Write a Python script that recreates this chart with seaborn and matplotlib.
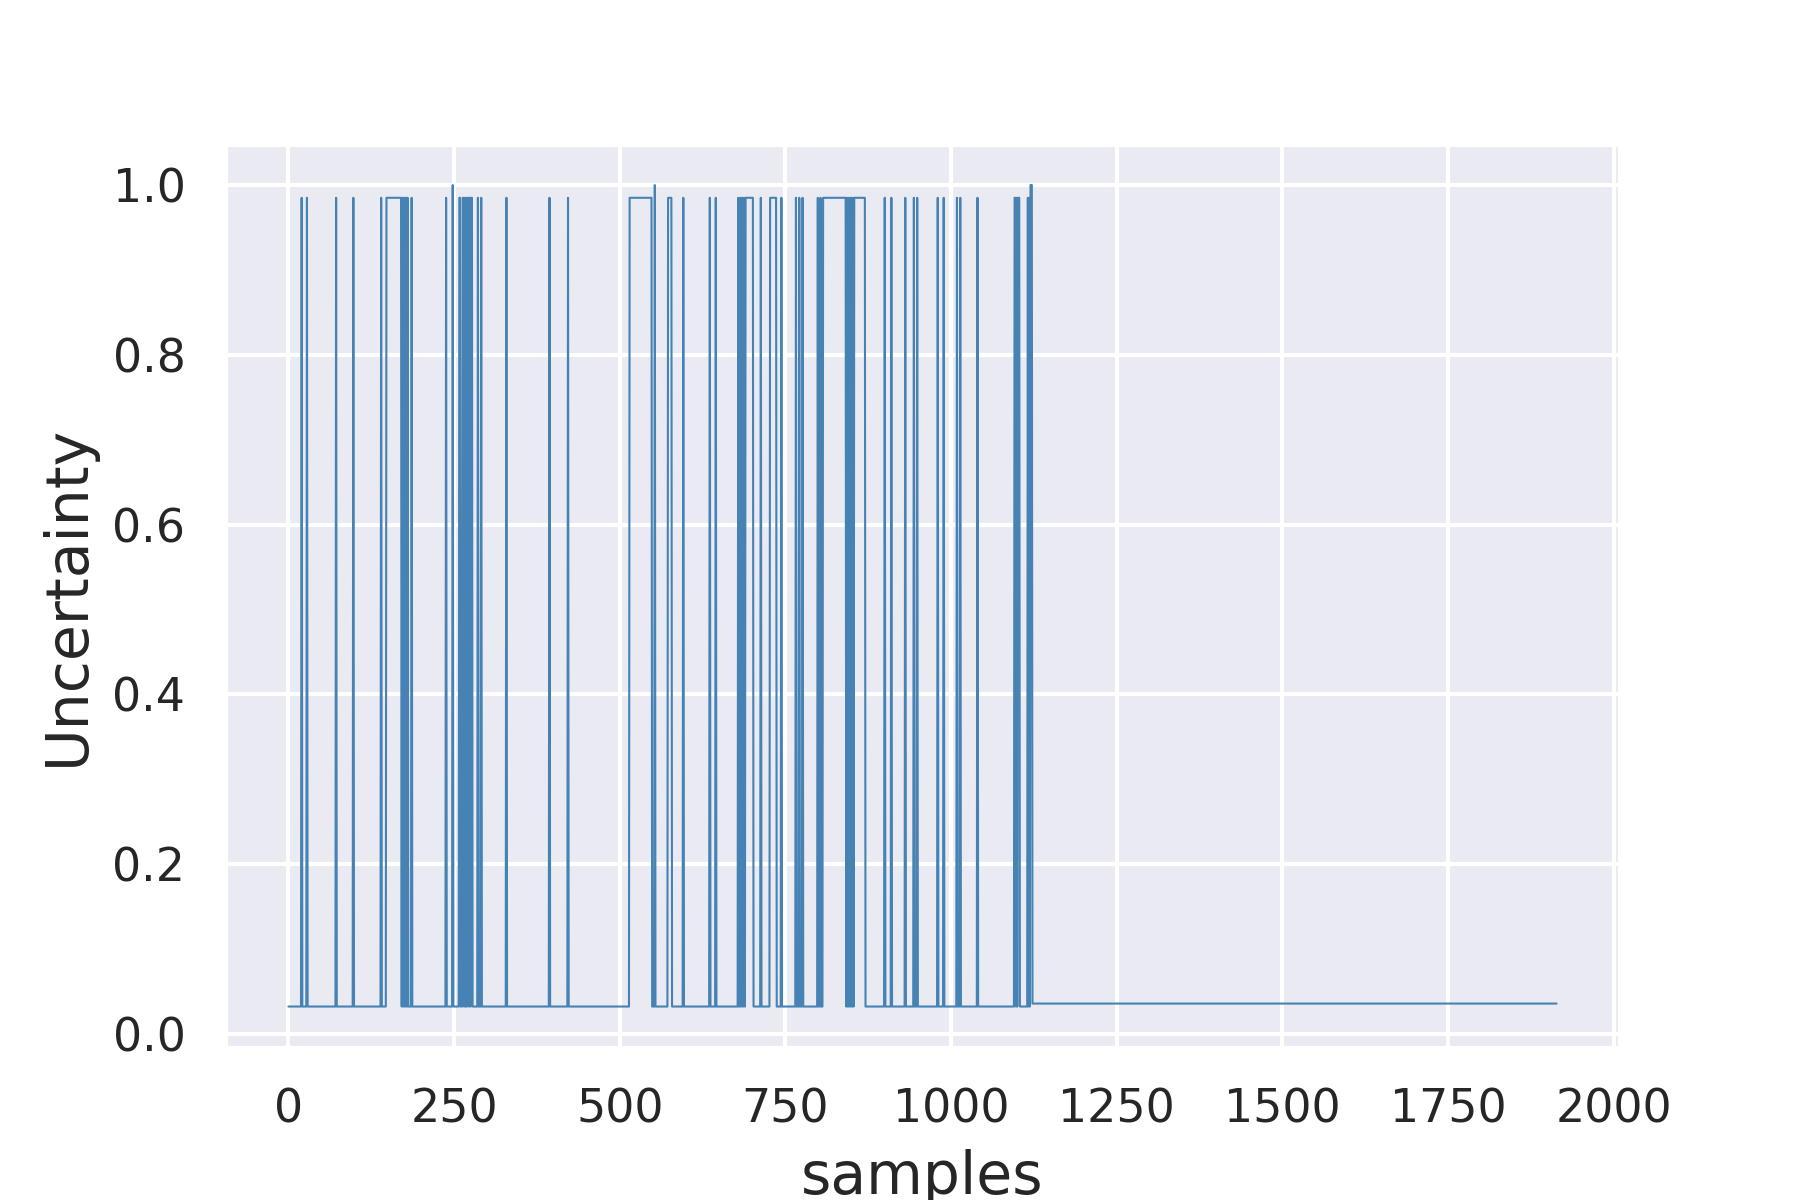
import numpy as np
import pandas as pd
import matplotlib
matplotlib.use("Agg")
import matplotlib.pyplot as plt
import seaborn as sns

# levels
low_level = 0.032
high_level = 0.985
peak_level = 1.0
tail_level = 0.0355
last_sample = 1914
tail_start = 1123

# sample ranges (inclusive) where uncertainty jumps to the high level
high_ranges = [
    (20, 20), (28, 28), (72, 72), (98, 98), (140, 140), (148, 169),
    (170, 170), (172, 172), (174, 174), (176, 176), (178, 178), (180, 180),
    (186, 186), (238, 238), (258, 259), (263, 264), (267, 267), (269, 269),
    (271, 272), (274, 274), (276, 277), (286, 286), (291, 291), (329, 329),
    (394, 394), (422, 422), (515, 548), (573, 578), (596, 596), (636, 636),
    (645, 645), (679, 679), (682, 682), (684, 684), (686, 686), (688, 688),
    (690, 701), (713, 713), (727, 736), (744, 744), (766, 766), (771, 771),
    (776, 776), (799, 799), (803, 803), (807, 841), (843, 843), (846, 846),
    (848, 848), (850, 850), (852, 852), (854, 870), (900, 900), (910, 910),
    (931, 931), (944, 944), (949, 949), (980, 980), (989, 989), (1009, 1009),
    (1014, 1014), (1040, 1040), (1096, 1097), (1099, 1099), (1101, 1103),
    (1116, 1116), (1118, 1118),
]
# samples that reach 1.0
peak_samples = [248, 553, 1120, 1121, 1122]

samples = np.arange(last_sample + 1)
uncertainty = np.full(len(samples), low_level)
for a, b in high_ranges:
    uncertainty[a:b + 1] = high_level
uncertainty[peak_samples] = peak_level
uncertainty[tail_start:] = tail_level

df = pd.DataFrame({"samples": samples, "Uncertainty": uncertainty})

sns.set_theme(style="darkgrid")
fig, ax = plt.subplots(figsize=(6, 4), dpi=300)
fig.subplots_adjust(bottom=0.127)
sns.lineplot(data=df, x="samples", y="Uncertainty", color="steelblue",
             linewidth=0.5, ax=ax)
ax.set_xlabel("samples", fontsize=14)
ax.set_ylabel("Uncertainty", fontsize=14)
fig.savefig("out.png", dpi=300)
